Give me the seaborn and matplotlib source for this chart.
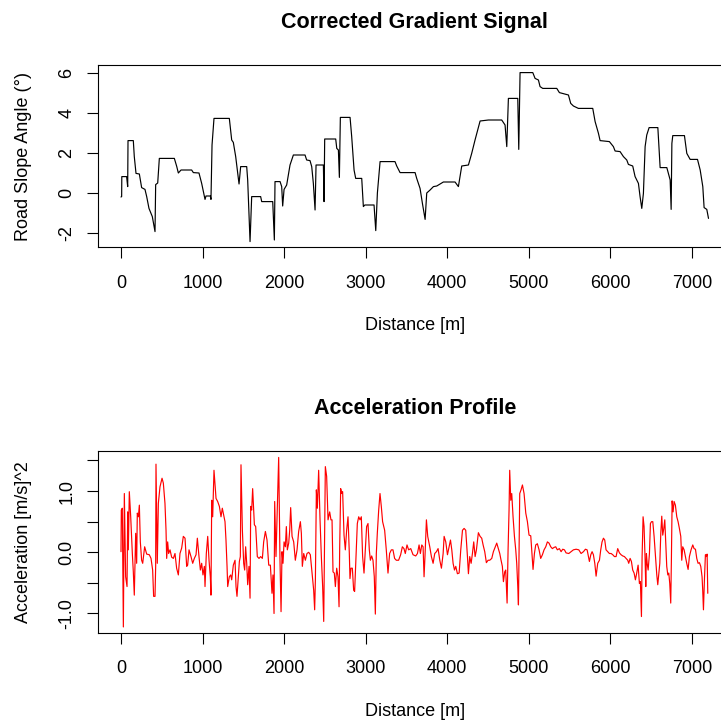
import matplotlib
matplotlib.use("Agg")
import matplotlib.pyplot as plt
import seaborn as sns
import pandas as pd

# ---------------- data ----------------
slope_dist = [0, 8, 10, 69, 82, 86, 151, 163, 184, 225,
              253, 294, 315, 343, 384, 417, 425, 450, 470, 654,
              683, 703, 736, 866, 887, 956, 989, 1030, 1042, 1095,
              1103, 1116, 1140, 1328, 1357, 1377, 1406, 1447, 1467, 1541,
              1553, 1582, 1602, 1712, 1725, 1860, 1880, 1888, 1950, 1970,
              1982, 1999, 2031, 2072, 2113, 2256, 2276, 2317, 2338, 2358,
              2379, 2391, 2481, 2489, 2497, 2632, 2645, 2665, 2677, 2689,
              2808, 2828, 2857, 2877, 2951, 2971, 2989, 3102, 3123, 3143,
              3176, 3359, 3380, 3421, 3605, 3625, 3666, 3695, 3728, 3748,
              3789, 3830, 3871, 3952, 4095, 4136, 4177, 4259, 4299, 4340,
              4402, 4504, 4667, 4708, 4729, 4749, 4864, 4876, 4892, 5048,
              5076, 5117, 5137, 5170, 5342, 5374, 5485, 5513, 5546, 5607,
              5783, 5812, 5853, 5873, 5987, 6036, 6057, 6118, 6159, 6200,
              6220, 6273, 6302, 6343, 6363, 6384, 6404, 6425, 6445, 6474,
              6581, 6609, 6691, 6732, 6744, 6753, 6764, 6907, 6936, 6977,
              7067, 7100, 7132, 7148, 7181, 7202]
slope_deg = [-0.20, -0.18, 0.82, 0.82, 0.32, 2.62, 2.62, 1.82, 0.98, 0.95,
             0.27, 0.18, -0.18, -0.77, -1.18, -1.93, 0.42, 0.50, 1.73, 1.73,
             1.33, 1.00, 1.15, 1.15, 1.02, 1.00, 0.48, -0.32, -0.15, -0.15,
             -0.32, 2.40, 3.73, 3.73, 2.65, 2.53, 1.82, 0.45, 1.32, 1.32,
             0.65, -2.43, -0.18, -0.18, -0.43, -0.43, -2.35, 0.57, 0.57, 0.32,
             -0.65, 0.18, 0.40, 1.40, 1.90, 1.90, 1.65, 1.62, 1.32, 0.48,
             -0.85, 1.40, 1.40, -0.43, 2.70, 2.70, 2.23, 2.15, 0.78, 3.78,
             3.78, 2.82, 1.15, 0.73, 0.73, -0.68, -0.60, -0.60, -1.88, 0.00,
             1.57, 1.57, 1.35, 1.02, 1.02, 0.73, 0.23, -0.52, -1.32, 0.00,
             0.15, 0.32, 0.35, 0.55, 0.55, 0.32, 1.35, 1.40, 1.98, 2.65,
             3.60, 3.65, 3.65, 3.40, 2.32, 4.73, 4.73, 2.18, 6.02, 6.02,
             5.73, 5.65, 5.32, 5.23, 5.23, 5.02, 4.90, 4.48, 4.35, 4.23,
             4.23, 3.57, 2.98, 2.62, 2.57, 2.32, 2.10, 2.07, 1.82, 1.65,
             1.43, 1.35, 0.82, 0.48, -0.18, -0.77, -0.02, 2.32, 2.90, 3.27,
             3.27, 1.27, 1.27, 0.65, -0.82, 2.48, 2.87, 2.87, 1.98, 1.68,
             1.68, 1.15, 0.32, -0.73, -0.82, -1.27]

acc_dist = [0, 4, 16, 29, 41, 57, 74, 82, 90, 102,
            119, 139, 151, 163, 180, 192, 200, 213, 225, 237,
            253, 266, 282, 290, 315, 347, 368, 388, 400, 417,
            425, 429, 445, 458, 478, 503, 519, 539, 552, 560,
            572, 584, 601, 621, 642, 662, 682, 703, 723, 744,
            764, 785, 805, 817, 834, 858, 879, 899, 920, 936,
            956, 973, 989, 1005, 1022, 1030, 1046, 1063, 1079, 1095,
            1103, 1112, 1124, 1140, 1165, 1185, 1206, 1226, 1242, 1259,
            1275, 1287, 1300, 1308, 1328, 1345, 1357, 1377, 1398, 1410,
            1422, 1439, 1451, 1463, 1471, 1488, 1504, 1516, 1528, 1541,
            1553, 1569, 1582, 1590, 1602, 1614, 1635, 1651, 1671, 1692,
            1712, 1733,
            1749, 1770, 1790, 1811, 1831, 1851, 1863, 1876, 1884, 1900,
            1913, 1933, 1949, 1962, 1974, 1986, 1999, 2015, 2027, 2039,
            2056, 2068, 2080, 2097, 2117, 2137, 2158, 2178, 2199, 2211,
            2223, 2240, 2260, 2280, 2301, 2321, 2342, 2362, 2374, 2383,
            2395, 2407, 2423, 2440, 2456, 2472, 2485, 2493, 2505, 2521,
            2538, 2558, 2574, 2587, 2599, 2615, 2628, 2644, 2660, 2673,
            2681, 2693, 2705, 2717, 2734, 2750, 2766, 2783, 2799, 2807,
            2819, 2836, 2852, 2864, 2881, 2897, 2914, 2930, 2946, 2962,
            2979, 2995, 3011, 3028, 3044, 3057, 3073, 3089, 3105, 3118,
            3130, 3142, 3159, 3175, 3191, 3207, 3232, 3252, 3273, 3293,
            3314, 3334, 3354, 3375, 3403, 3428, 3449, 3469, 3485, 3506,
            3526,
            3552, 3580, 3613, 3634, 3654, 3670, 3687, 3703, 3715, 3728,
            3744, 3760, 3785, 3805, 3826, 3846, 3867, 3887, 3908, 3928,
            3949, 3961, 3981, 4002, 4022, 4039, 4055, 4071, 4088, 4104,
            4124, 4145, 4165, 4186, 4206, 4226, 4247, 4259, 4275, 4292,
            4308, 4324, 4341, 4357, 4381, 4402, 4422, 4439, 4459, 4479,
            4500, 4520, 4545, 4565, 4586, 4606, 4626, 4643, 4659, 4675,
            4688, 4704, 4716, 4724, 4733, 4745, 4757, 4765, 4778, 4790,
            4806, 4823, 4839, 4851, 4864, 4872, 4880, 4888, 4904, 4921,
            4941, 4962, 4982, 5002, 5023, 5035, 5051, 5068, 5084, 5104,
            5125, 5145, 5166, 5186, 5207, 5227, 5247, 5268, 5288, 5309,
            5329, 5349,
            5374, 5395, 5415, 5436, 5456, 5489, 5517, 5546, 5579, 5612,
            5640, 5669, 5693, 5714, 5730, 5742, 5759, 5775, 5791, 5808,
            5824, 5844, 5865, 5881, 5897, 5914, 5930, 5946, 5967, 5987,
            6008, 6028, 6049, 6069, 6089, 6110, 6130, 6151, 6171, 6192,
            6212, 6224, 6241, 6257, 6273, 6290, 6306, 6322, 6339, 6355,
            6367, 6380, 6388, 6400, 6412, 6425, 6433, 6441, 6450, 6462,
            6478, 6490, 6503, 6519, 6535, 6552, 6568, 6580, 6592, 6605,
            6617, 6629, 6641, 6654, 6666, 6678, 6690, 6703, 6715, 6727,
            6739, 6747, 6756, 6768, 6780, 6796, 6813, 6829, 6845, 6862,
            6874, 6886, 6903, 6919, 6935, 6952, 6968, 6988, 7009, 7025,
            7042, 7058, 7074, 7091, 7107, 7123, 7131, 7140, 7152, 7164,
            7177, 7185, 7193]
acc_val = [0.01, 0.69, 0.72, -1.22, 0.96, -0.40, -0.56, 0.66, 0.04, 0.99,
           0.58, -0.02, -0.32, -0.70, 0.31, -0.18, 0.64, 0.58, 0.77, 0.17,
           -0.13, -0.18, 0.01, 0.09, -0.03, -0.04, -0.10, -0.29, -0.72, -0.72,
           -0.23, 1.44, -0.18, 0.80, 1.07, 1.21, 1.13, 0.80, 0.36, -0.10,
           0.17, -0.02, 0.04, -0.08, -0.10, -0.02, -0.26, -0.37, -0.02, 0.07,
           0.26, 0.23, -0.23, -0.21, 0.04, -0.07, -0.18, -0.10, -0.04, 0.23,
           -0.07, -0.29, -0.18, -0.37, -0.23, -0.56, -0.02, 0.26, -0.13, -0.40,
           -0.70, 0.85, 0.58, 1.34, 0.88, 0.83, 0.75, 0.58, 0.72, 0.61,
           0.50, 0.20, -0.23, -0.56, -0.40, -0.37, -0.45, -0.21, -0.13, -0.56,
           -0.72, -0.40, -0.15, -0.07, 1.43, 0.36, -0.18, -0.29, 0.09, -0.18,
           -0.53, -0.23, -0.75, 0.75, 0.69, 1.04, 0.45, 0.42, -0.07, -0.10,
           -0.07, -0.10,
           0.17, 0.34, 0.20, -0.21, -0.21, -0.67, -0.37, -1.00, 0.83, -0.07,
           0.58, 1.55, -0.13, -0.97, 0.01, -0.18, 0.17, 0.09, 0.42, 0.04,
           0.15, 0.36, 0.73, 0.26, 0.17, -0.13, 0.04, 0.34, 0.50, 0.31,
           -0.23, -0.02, -0.13, -0.02, 0.00, -0.04, -0.34, -0.62, -0.94, -0.45,
           1.02, 0.72, 1.34, 0.53, -0.07, -0.56, -1.13, -0.07, 1.40, 1.24,
           0.53, 0.66, 0.53, 0.53, -0.32, -0.34, -0.56, -0.26, -0.40, -0.89,
           0.09, 1.04, 0.96, 0.99, 0.28, 0.04, 0.36, 0.58, -0.02, -0.43,
           -0.26, -0.26, -0.62, -0.64, -0.07, 0.47, 0.58, 0.53, 0.58, -0.07,
           -0.34, 0.04, 0.42, 0.47, 0.04, -0.13, -0.06, -0.13, -0.40, -1.01,
           -0.02, 0.31, 0.69, 0.96, 0.75, 0.50, 0.36, 0.04, -0.34, -0.02,
           0.04, 0.04, -0.10, -0.13, -0.13, -0.04, 0.09, 0.06, -0.02, 0.12,
           0.04,
           0.06, -0.04, -0.06, -0.02, 0.12, -0.02, 0.12, 0.09, -0.40, -0.02,
           0.53, 0.26, 0.09, -0.07, -0.18, -0.02, 0.01, 0.06, -0.13, -0.26,
           -0.02, 0.26, 0.17, -0.04, 0.09, 0.20, 0.04, -0.18, -0.29, -0.23,
           -0.35, -0.34, 0.04, 0.36, 0.39, 0.36, -0.07, -0.35, -0.07, -0.18,
           -0.02, 0.17, -0.07, 0.04, 0.32, 0.26, 0.23, 0.12, 0.01, -0.17,
           -0.13, -0.13, -0.10, 0.01, 0.08, 0.15, 0.06, -0.02, -0.13, -0.23,
           -0.48, -0.32, -0.29, -0.56, -0.83, 0.04, 0.69, 1.34, 0.85, 0.96,
           0.58, 0.26, 0.04, -0.18, -0.56, -0.86, 0.04, 0.96, 1.02, 1.10,
           0.96, 0.64, 0.50, 0.28, 0.27, 0.04, -0.28, -0.02, 0.12, 0.14,
           0.04, -0.10, -0.04, 0.04, 0.09, 0.17, 0.15, 0.09, 0.06, 0.08,
           0.09, 0.04,
           0.06, 0.01, 0.05, 0.04, -0.01, -0.02, 0.01, 0.04, 0.05, 0.04,
           -0.02, 0.01, 0.05, 0.04, -0.07, -0.15, -0.04, 0.01, -0.04, -0.18,
           -0.39, -0.18, -0.13, 0.04, 0.17, 0.23, 0.20, 0.04, 0.01, -0.02,
           -0.02, -0.04, -0.07, -0.07, 0.06, -0.01, -0.04, -0.06, -0.07, -0.10,
           -0.13, -0.18, -0.10, -0.15, -0.29, -0.34, -0.45, -0.34, -0.21, -0.51,
           -0.48, -1.05, -0.07, 0.58, 0.42, -0.13, -0.56, -0.02, -0.18, -0.29,
           -0.02, 0.47, 0.50, 0.50, 0.26, -0.07, -0.37, -0.53, -0.37, -0.18,
           0.31, 0.59, 0.28, 0.39, 0.53, 0.15, -0.23, -0.37, -0.34, -0.51,
           -0.83, -0.13, 0.84, 0.66, 0.83, 0.77, 0.58, 0.50, 0.39, 0.26,
           -0.13, 0.09, 0.04, -0.07, -0.18, -0.28, -0.07, 0.04, 0.12, 0.06,
           0.05, -0.10, -0.18, -0.17, -0.23, -0.40, -0.62, -0.94, -0.45, -0.04,
           -0.07, -0.03, -0.67]

x_ticks = [0, 1000, 2000, 3000, 4000, 5000, 6000, 7000]
slope_yticks = [-2, 0, 2, 4, 6]
acc_yticks = [-1.0, -0.5, 0.0, 0.5, 1.0, 1.5]
acc_yticklabels = ["-1.0", "", "0.0", "", "1.0", ""]

n = min(len(slope_dist), len(slope_deg))
slope_df = pd.DataFrame({"dist": slope_dist[:n], "slope": slope_deg[:n]})
m = min(len(acc_dist), len(acc_val))
acc_df = pd.DataFrame({"dist": acc_dist[:m], "acc": acc_val[:m]})

# ---------------- style ----------------
sns.set_theme(style="ticks")
plt.rcParams["font.family"] = ["Liberation Sans", "DejaVu Sans"]
plt.rcParams["axes.edgecolor"] = "black"
plt.rcParams["axes.linewidth"] = 0.8
plt.rcParams["xtick.color"] = "black"
plt.rcParams["ytick.color"] = "black"
plt.rcParams["text.color"] = "black"
plt.rcParams["axes.labelcolor"] = "black"

FS = 13.0
TFS = 15.5

fig = plt.figure(figsize=(7.21, 7.20), dpi=100)
fig.patch.set_facecolor("white")

W = 721.0
H = 720.0
left_px, right_px = 97.5, 732.0
ax1 = fig.add_axes([left_px / W, 1 - 247.3 / H, (right_px - left_px) / W, (247.3 - 65.0) / H])
ax2 = fig.add_axes([left_px / W, 1 - 632.7 / H, (right_px - left_px) / W, (632.7 - 451.0) / H])

sns.lineplot(data=slope_df, x="dist", y="slope", ax=ax1, color="black",
             linewidth=0.85, estimator=None, sort=False)
sns.lineplot(data=acc_df, x="dist", y="acc", ax=ax2, color="#FF0000",
             linewidth=0.85, estimator=None, sort=False)

ax1.set_ylim(-2.715, 6.4)
ax2.set_ylim(-1.314, 1.655)

for ax, title, ylab in [(ax1, "Corrected Gradient Signal", "Road Slope Angle (°)"),
                        (ax2, "Acceleration Profile", "Acceleration [m/s]^2")]:
    ax.set_xlim(-288, 7490)
    ax.set_xticks(x_ticks)
    ax.set_xticklabels([str(t) for t in x_ticks])
    ax.set_title(title, fontsize=TFS, fontweight="bold", pad=26.5)
    ax.set_xlabel("Distance [m]", fontsize=FS, labelpad=18.5)
    ax.set_ylabel(ylab, fontsize=FS, labelpad=19)
    ax.tick_params(axis="x", direction="out", length=7.8, width=0.8,
                   pad=11.9, labelsize=FS)
    ax.tick_params(axis="y", direction="out", length=7.8, width=0.8,
                   pad=8.2, labelsize=FS)
    for s in ax.spines.values():
        s.set_visible(True)
        s.set_color("black")
        s.set_linewidth(0.8)
    ax.set_facecolor("white")
    ax.grid(False)

ax1.set_yticks(slope_yticks)
ax1.set_yticklabels([str(t) for t in slope_yticks])
ax2.set_yticks(acc_yticks)
ax2.set_yticklabels(acc_yticklabels)

for ax in (ax1, ax2):
    for lab in ax.get_yticklabels():
        lab.set_rotation(90)
        lab.set_va("center")
        lab.set_ha("right")

fig.savefig("out.png", dpi=100, facecolor="white")
